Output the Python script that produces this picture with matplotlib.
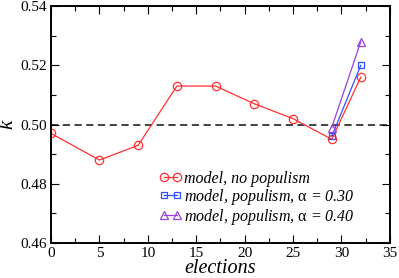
import matplotlib
matplotlib.use('Agg')
import matplotlib.pyplot as plt
from matplotlib.ticker import MultipleLocator

plt.rcParams['font.family'] = 'Liberation Serif'
plt.rcParams['mathtext.fontset'] = 'custom'
plt.rcParams['mathtext.rm'] = 'Liberation Serif'
plt.rcParams['mathtext.it'] = 'Liberation Serif:italic'

# data
elections = [0, 5, 9, 13, 17, 21, 25, 29, 32]
k_no_pop = [0.497, 0.488, 0.493, 0.513, 0.513, 0.507, 0.502, 0.495, 0.516]
elections_pop = [29, 32]
k_pop_030 = [0.496, 0.520]
k_pop_040 = [0.499, 0.528]

fig = plt.figure(figsize=(3.99, 2.78), dpi=100)
ax = fig.add_axes([0.128, 0.126, 0.849, 0.852])

ax.axhline(0.50, color='#333333', ls=(0, (4, 2.5)), lw=1.3, zorder=1)

ax.plot(elections, k_no_pop, color='#ff3030', lw=0.9, marker='o', ms=6,
        mfc='none', mew=0.9, label='model, no populism')
ax.plot(elections_pop, k_pop_030, color='#3050ff', lw=0.9, marker='s', ms=5,
        mfc='none', mew=0.9, label=r'model, populism, $\mathrm{α}$ = 0.30')
ax.plot(elections_pop, k_pop_040, color='#9a40e0', lw=0.9, marker='^', ms=5.5,
        mfc='none', mew=0.9, label=r'model, populism, $\mathrm{α}$ = 0.40')

ax.set_xlim(0, 35)
ax.set_ylim(0.46, 0.54)
ax.xaxis.set_major_locator(MultipleLocator(5))
ax.xaxis.set_minor_locator(MultipleLocator(2.5))
ax.yaxis.set_major_locator(MultipleLocator(0.02))
ax.yaxis.set_minor_locator(MultipleLocator(0.01))
ax.set_yticklabels([f'{v:.2f}' for v in ax.get_yticks()])
ax.tick_params(which='both', direction='in', top=True, right=True, labelsize=11, pad=3)
ax.tick_params(which='major', length=6, width=0.8)
ax.tick_params(which='minor', length=3.5, width=0.8)
for s in ax.spines.values():
    s.set_linewidth(1.4)

ax.set_xlabel('elections', fontsize=14.5, fontstyle='italic', labelpad=-1)
ax.set_ylabel('k', fontsize=15, fontstyle='italic', labelpad=2)

leg = ax.legend(loc='lower left', bbox_to_anchor=(0.296, 0.035), frameon=False,
                prop={'size': 11.5, 'style': 'italic'}, handlelength=1.4,
                handletextpad=0.15, labelspacing=0.0, borderpad=0, numpoints=2)

fig.savefig('out.png', dpi=100)
